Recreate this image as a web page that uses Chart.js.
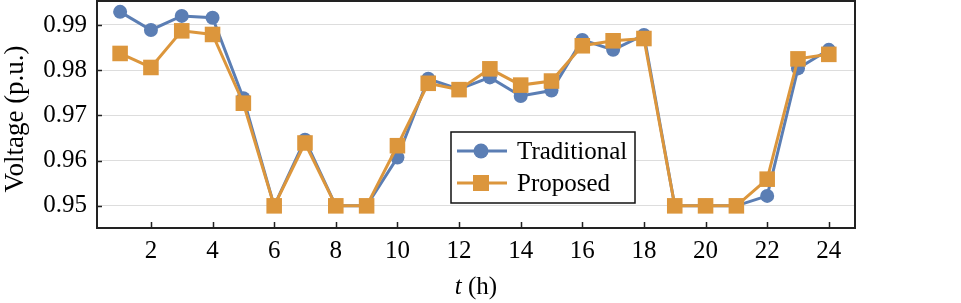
<html>
<head>
    <title>Voltage</title>
    <style>
        body { margin: 0; background: #fff; }
        #wrap { width: 961px; height: 303px; }
    </style>
</head>
<body>
    <div id="wrap"><canvas id="grafico" width="961" height="303"></canvas></div>

    <script src="https://cdn.jsdelivr.net/npm/chart.js"></script>

    <script>
        // horas
        const horas = [1, 2, 3, 4, 5, 6, 7, 8, 9, 10, 11, 12, 13, 14, 15, 16, 17, 18, 19, 20, 21, 22, 23, 24];
        // voltajes
        const tradicional = [0.9929, 0.9889, 0.9920, 0.9916, 0.9738, 0.9500, 0.9646, 0.9500, 0.9500, 0.9607, 0.9781, 0.9758,
                             0.9784, 0.9743, 0.9755, 0.9867, 0.9845, 0.9878, 0.9500, 0.9500, 0.9500, 0.9522, 0.9804, 0.9845];
        const propuesto = [0.9837, 0.9806, 0.9887, 0.9879, 0.9727, 0.9500, 0.9639, 0.9500, 0.9500, 0.9633, 0.9771, 0.9757,
                           0.9803, 0.9767, 0.9776, 0.9854, 0.9865, 0.9870, 0.9500, 0.9500, 0.9500, 0.9559, 0.9825, 0.9835];
        const xTicks = [2, 4, 6, 8, 10, 12, 14, 16, 18, 20, 22, 24];
        const yTicks = [0.95, 0.96, 0.97, 0.98, 0.99];
        const nombres = ['Traditional', 'Proposed'];
        const tituloY = 'Voltage (p.u.)';

        const azul = '#5b7eb4';
        const naranja = '#dc963c';
        const fuente = "'Liberation Serif', serif";

        // marco, marcas interiores, titulos de ejes y leyenda
        const extras = {
            id: 'extras',
            afterDraw(chart) {
                const ctx = chart.ctx;
                const a = chart.chartArea;
                const xs = chart.scales.x;
                ctx.save();
                ctx.strokeStyle = '#222';
                ctx.lineWidth = 1.5;
                ctx.beginPath();
                xTicks.forEach(v => {
                    const px = Math.round(xs.getPixelForValue(v)) + 0.5;
                    ctx.moveTo(px, a.bottom);
                    ctx.lineTo(px, a.bottom - 6);
                });
                yTicks.forEach(v => {
                    const py = Math.round(chart.scales.y.getPixelForValue(v)) + 0.5;
                    ctx.moveTo(a.left, py);
                    ctx.lineTo(a.left + 5, py);
                });
                ctx.stroke();
                ctx.lineWidth = 2;
                ctx.strokeRect(a.left, a.top, a.right - a.left, a.bottom - a.top);

                // titulo x
                ctx.fillStyle = '#000';
                ctx.textBaseline = 'middle';
                const t1 = 't';
                const t2 = ' (h)';
                ctx.font = 'italic 25px ' + fuente;
                const w1 = ctx.measureText(t1).width;
                ctx.font = '25px ' + fuente;
                const w2 = ctx.measureText(t2).width;
                const cx = (a.left + a.right) / 2;
                const x0 = cx - (w1 + w2) / 2;
                ctx.textAlign = 'left';
                ctx.font = 'italic 25px ' + fuente;
                ctx.fillText(t1, x0, 287);
                ctx.font = '25px ' + fuente;
                ctx.fillText(t2, x0 + w1, 287);

                // titulo y
                ctx.save();
                ctx.translate(16, 119);
                ctx.rotate(-Math.PI / 2);
                ctx.textAlign = 'center';
                ctx.font = '27px ' + fuente;
                ctx.fillText(tituloY, 0, 0);
                ctx.restore();

                // leyenda
                ctx.fillStyle = '#fff';
                ctx.fillRect(451, 132, 184, 71);
                ctx.strokeStyle = '#111';
                ctx.lineWidth = 1.5;
                ctx.strokeRect(451, 132, 184, 71);
                chart.data.datasets.forEach((ds, i) => {
                    const y = 151 + i * 32;
                    ctx.strokeStyle = ds.borderColor;
                    ctx.lineWidth = 3;
                    ctx.beginPath();
                    ctx.moveTo(457, y);
                    ctx.lineTo(507, y);
                    ctx.stroke();
                    ctx.fillStyle = ds.backgroundColor;
                    if (ds.pointStyle === 'circle') {
                        ctx.beginPath();
                        ctx.arc(481, y, 7.5, 0, Math.PI * 2);
                        ctx.fill();
                    } else {
                        ctx.fillRect(473, y - 8, 16, 16);
                    }
                    ctx.fillStyle = '#000';
                    ctx.font = '25px ' + fuente;
                    ctx.textAlign = 'left';
                    ctx.textBaseline = 'middle';
                    ctx.fillText(ds.label, 517, y + 1);
                });
                ctx.restore();
            }
        };

        const ctx = document.getElementById('grafico').getContext('2d');
        const grafico = new Chart(ctx, {
            type: 'line',
            data: {
                labels: horas,
                datasets: [
                    {
                        label: nombres[0],
                        data: horas.map((h, i) => ({x: h, y: tradicional[i]})),
                        borderColor: azul,
                        backgroundColor: azul,
                        borderWidth: 3,
                        pointStyle: 'circle',
                        pointRadius: 7,
                        pointBorderWidth: 0,
                        tension: 0,
                        clip: false,
                        order: 1
                    },
                    {
                        label: nombres[1],
                        data: horas.map((h, i) => ({x: h, y: propuesto[i]})),
                        borderColor: naranja,
                        backgroundColor: naranja,
                        borderWidth: 3,
                        pointStyle: 'rect',
                        pointRadius: 11,
                        pointBorderWidth: 0,
                        tension: 0,
                        clip: false,
                        order: 0
                    }
                ]
            },
            options: {
                responsive: false,
                animation: false,
                layout: { autoPadding: false, padding: { top: 1, right: 106, left: 0, bottom: 0 } },
                plugins: {
                    legend: { display: false },
                    tooltip: { enabled: false }
                },
                scales: {
                    x: {
                        type: 'linear',
                        min: 0.25,
                        max: 24.85,
                        afterBuildTicks: s => { s.ticks = xTicks.map(v => ({value: v})); },
                        afterFit: s => {
                            s.height = 75;
                            s.paddingLeft = 0;
                            s.paddingRight = 0;
                        },
                        grid: { display: false, drawTicks: false },
                        border: { display: false },
                        ticks: {
                            color: '#000',
                            padding: 8,
                            maxRotation: 0,
                            autoSkip: false,
                            font: { family: fuente, size: 25 }
                        }
                    },
                    y: {
                        type: 'linear',
                        min: 0.9451,
                        max: 0.9953,
                        afterBuildTicks: s => { s.ticks = yTicks.map(v => ({value: v})); },
                        afterFit: s => {
                            s.width = 97;
                            s.paddingTop = 0;
                            s.paddingBottom = 0;
                        },
                        grid: { color: '#dddddd', lineWidth: 1, drawTicks: false },
                        border: { display: false },
                        ticks: {
                            color: '#000',
                            padding: 10,
                            callback: v => v.toFixed(2),
                            font: { family: fuente, size: 25 }
                        }
                    }
                }
            },
            plugins: [extras]
        });
    </script>
</body>
</html>
